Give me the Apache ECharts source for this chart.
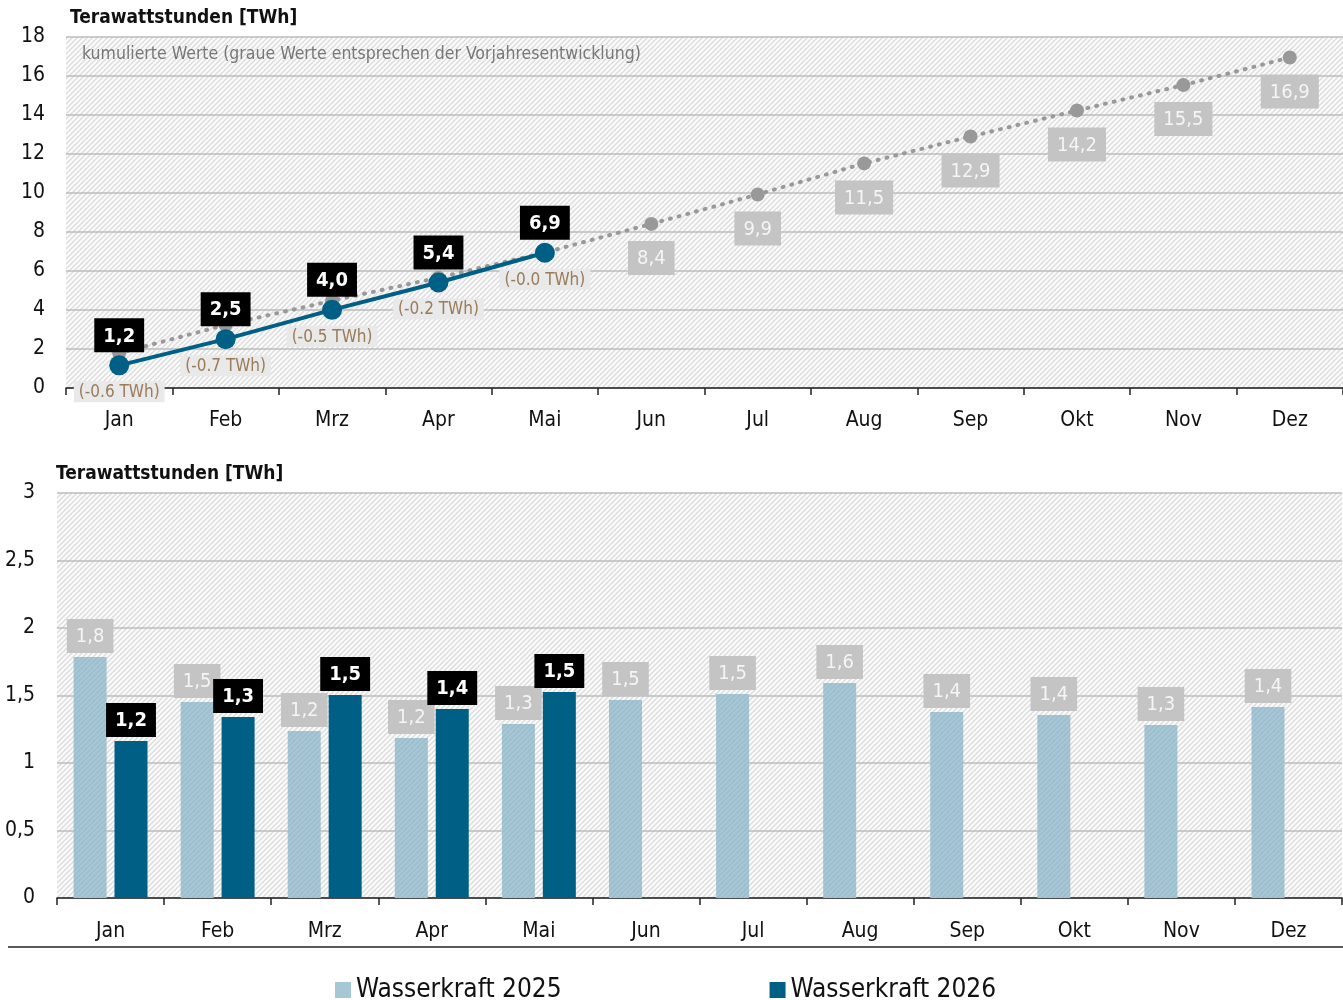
<!DOCTYPE html>
<html>
<head>
<meta charset="utf-8">
<script src="https://cdn.jsdelivr.net/npm/echarts@6/dist/echarts.min.js"></script>
<style>
html,body{margin:0;padding:0;background:#fff;}
#main{width:1343px;height:1000px;}
</style>
</head>
<body>
<div id="main"></div>
<script>
const months = ['Jan','Feb','Mrz','Apr','Mai','Jun','Jul','Aug','Sep','Okt','Nov','Dez'];
// monthly values (TWh)
const wasser2025 = [1.785, 1.452, 1.237, 1.185, 1.289, 1.467, 1.511, 1.593, 1.378, 1.356, 1.281, 1.415];
const wasser2026 = [1.163, 1.341, 1.504, 1.400, 1.526, null, null, null, null, null, null, null];
// cumulative values (TWh)
const kum2025 = [1.785, 3.237, 4.474, 5.659, 6.948, 8.415, 9.926, 11.519, 12.897, 14.23, 15.534, 16.949];
const kum2026 = [1.163, 2.504, 4.008, 5.408, 6.934];
const diffLabels = ['(-0.6 TWh)', '(-0.7 TWh)', '(-0.5 TWh)', '(-0.2 TWh)', '(-0.0 TWh)'];
const yTop = {min: 0, max: 18, interval: 2};
const yBottom = {min: 0, max: 3, interval: 0.5};

const FONT = '"Liberation Sans Narrow","DejaVu Sans Condensed","Roboto",sans-serif';
const BLUE = '#005f85';
const LIGHTBLUE = '#a6c7d6';

function hatch(bg, line, size, lw) {
  const s = size || 6;
  const c = document.createElement('canvas');
  c.width = s; c.height = s;
  const g = c.getContext('2d');
  g.fillStyle = bg; g.fillRect(0, 0, s, s);
  g.strokeStyle = line; g.lineWidth = lw || 1;
  g.beginPath();
  g.moveTo(0, s); g.lineTo(s, 0);
  g.moveTo(-1, 1); g.lineTo(1, -1);
  g.moveTo(s - 1, s + 1); g.lineTo(s + 1, s - 1);
  g.stroke();
  return {image: c, repeat: 'repeat'};
}
const comma = v => v.toFixed(1).replace('.', ',');

const chart = echarts.init(document.getElementById('main'), null, {renderer: 'canvas'});

const blackLabel = {
  show: true, position: 'top', color: '#fff', fontFamily: FONT, fontSize: 20, fontWeight: 'bold',
  backgroundColor: '#000', padding: [8, 9, 6, 9],
  formatter: p => comma(p.value)
};
const greyLabel = {
  show: true, color: '#f5f5f5', fontFamily: FONT, fontSize: 20,
  backgroundColor: '#c4c4c4', padding: [8, 9, 6, 9],
  formatter: p => comma(p.value)
};
const axisFont = {color: '#111', fontFamily: FONT, fontSize: 21};

const option = {
  backgroundColor: '#fff',
  animation: false,
  textStyle: {fontFamily: FONT},
  grid: [
    {left: 66, top: 37, width: 1285, height: 351, show: true, borderWidth: 0, backgroundColor: hatch('#fbfbfb', '#dcdcdc', 5, 1.4)},
    {left: 57, top: 493, width: 1285, height: 405, show: true, borderWidth: 0, backgroundColor: hatch('#fbfbfb', '#dcdcdc', 5, 1.4)}
  ],
  xAxis: [
    {type: 'category', gridIndex: 0, data: months, boundaryGap: true,
     axisLine: {show: true, lineStyle: {color: '#222', width: 1.5}},
     axisTick: {show: true, length: 7, lineStyle: {color: '#222', width: 1.5}},
     axisLabel: Object.assign({margin: 22}, axisFont)},
    {type: 'category', gridIndex: 1, data: months, boundaryGap: true,
     axisLine: {show: true, lineStyle: {color: '#222', width: 1.5}},
     axisTick: {show: true, length: 7, lineStyle: {color: '#222', width: 1.5}},
     axisLabel: Object.assign({margin: 23}, axisFont)}
  ],
  yAxis: [
    {type: 'value', gridIndex: 0, min: yTop.min, max: yTop.max, interval: yTop.interval,
     axisLine: {show: false}, axisTick: {show: false},
     splitLine: {lineStyle: {color: '#bdbdbd', width: 1.5}},
     axisLabel: Object.assign({margin: 21}, axisFont)},
    {type: 'value', gridIndex: 1, min: yBottom.min, max: yBottom.max, interval: yBottom.interval,
     axisLine: {show: false}, axisTick: {show: false},
     splitLine: {lineStyle: {color: '#bdbdbd', width: 1.5}},
     axisLabel: Object.assign({margin: 22, formatter: v => String(v).replace('.', ',')}, axisFont)}
  ],
  legend: {
    left: 330, top: 972, itemWidth: 16, itemHeight: 16, itemGap: 208, icon: 'rect',
    textStyle: {fontFamily: FONT, fontSize: 26, color: '#111'},
    data: [
      {name: 'Wasserkraft 2025', itemStyle: {color: LIGHTBLUE}},
      {name: 'Wasserkraft 2026', itemStyle: {color: BLUE}}
    ]
  },
  series: [
    {
      name: 'Vorjahr kumuliert', type: 'line', xAxisIndex: 0, yAxisIndex: 0,
      data: kum2025.map((v, i) => ({value: v, label: {show: i >= 5}})),
      symbol: 'circle', symbolSize: 14, z: 3,
      itemStyle: {color: '#999'},
      lineStyle: {color: '#999', width: 4, type: [1, 8], cap: 'round'},
      label: Object.assign({}, greyLabel, {position: 'bottom', distance: 10})
    },
    {
      name: 'Differenz', type: 'line', xAxisIndex: 0, yAxisIndex: 0,
      data: kum2026, symbol: 'circle', symbolSize: 20, z: 4,
      itemStyle: {color: 'rgba(0,0,0,0)'}, lineStyle: {width: 0, color: 'rgba(0,0,0,0)'},
      label: {show: true, position: 'bottom', distance: 6, color: '#9a7b5a', fontFamily: FONT, fontSize: 17,
              backgroundColor: '#e9e9e9', padding: [3, 5, 1, 5],
              formatter: p => diffLabels[p.dataIndex]}
    },
    {
      name: 'Kumuliert 2026', type: 'line', xAxisIndex: 0, yAxisIndex: 0,
      data: kum2026, symbol: 'circle', symbolSize: 20, z: 5,
      itemStyle: {color: BLUE}, lineStyle: {color: BLUE, width: 4},
      label: Object.assign({}, blackLabel, {distance: 3})
    },
    {
      name: 'Wasserkraft 2025', type: 'bar', xAxisIndex: 1, yAxisIndex: 1,
      data: wasser2025, barWidth: 33, barGap: '24%',
      itemStyle: {color: hatch(LIGHTBLUE, '#9cbccc', 5, 1.4)},
      label: Object.assign({}, greyLabel, {position: 'top', distance: 4})
    },
    {
      name: 'Wasserkraft 2026', type: 'bar', xAxisIndex: 1, yAxisIndex: 1,
      data: wasser2026, barWidth: 33, barGap: '24%',
      itemStyle: {color: BLUE},
      label: Object.assign({}, blackLabel, {position: 'top', distance: 4})
    }
  ],
  graphic: [
    {type: 'text', left: 70, top: 9, style: {text: 'Terawattstunden [TWh]', fontFamily: FONT, fontSize: 19, fontWeight: 'bold', fill: '#111'}},
    {type: 'text', left: 82, top: 45, z: 10, style: {text: 'kumulierte Werte (graue Werte entsprechen der Vorjahresentwicklung)', fontFamily: FONT, fontSize: 17.5, fill: '#777'}},
    {type: 'text', left: 56, top: 465, style: {text: 'Terawattstunden [TWh]', fontFamily: FONT, fontSize: 19, fontWeight: 'bold', fill: '#111'}},
    {type: 'line', shape: {x1: 8, y1: 947, x2: 1343, y2: 947}, style: {stroke: '#222', lineWidth: 1.5}}
  ]
};
chart.setOption(option);
</script>
</body>
</html>
